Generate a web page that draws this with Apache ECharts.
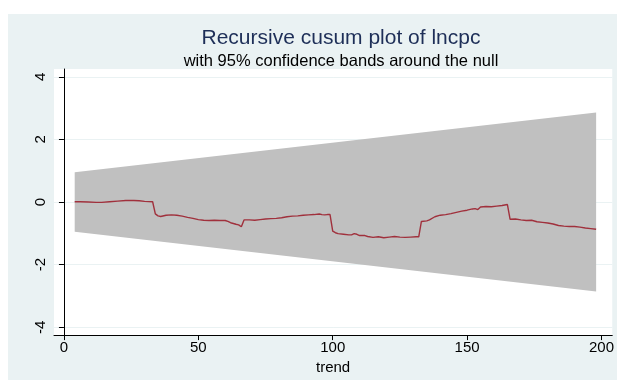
<!DOCTYPE html>
<html>
<head>
<meta charset="utf-8">
<script src="https://cdn.jsdelivr.net/npm/echarts@6/dist/echarts.min.js"></script>
<style>
  html, body { margin: 0; padding: 0; background: #ffffff; }
  #chart { width: 617px; height: 380px; }
</style>
</head>
<body>
<div id="chart"></div>
<script>
// recursive cusum values
var trendX = [4, 6, 9, 12, 14, 17, 20, 23, 26, 28, 30, 33, 34, 35, 36, 38, 40, 42, 44, 46,
    48, 50, 52, 54, 56, 58, 60, 61, 62, 64, 65, 66, 67, 69, 71, 73, 75, 77, 79, 81,
    83, 85, 87, 89, 91, 93, 95, 96, 97, 98, 99, 100, 101, 102, 104, 106, 107, 108, 109, 110,
    112, 113, 115, 117, 119, 121, 123, 125, 127, 129, 131, 132, 133, 135, 136, 138, 140, 142, 144, 146,
    148, 150, 152, 153, 154, 155, 157, 159, 161, 163, 165, 166, 168, 170, 172, 174, 176, 178, 180, 182,
    184, 186, 188, 190, 192, 194, 196, 198];
var cusumY = [0.01, 0.01, 0.0, -0.01, -0.01, 0.01, 0.03, 0.05, 0.05, 0.04, 0.02, 0.01, -0.38, -0.44, -0.46, -0.42, -0.41, -0.42, -0.45, -0.49,
    -0.52, -0.56, -0.58, -0.59, -0.58, -0.59, -0.59, -0.62, -0.66, -0.71, -0.73, -0.79, -0.57, -0.57, -0.58, -0.56, -0.54, -0.53, -0.52, -0.50,
    -0.47, -0.45, -0.44, -0.42, -0.41, -0.40, -0.38, -0.40, -0.41, -0.40, -0.40, -0.93, -0.98, -1.01, -1.03, -1.05, -1.05, -1.01, -1.03, -1.07,
    -1.07, -1.10, -1.13, -1.11, -1.14, -1.12, -1.10, -1.12, -1.13, -1.12, -1.11, -1.11, -0.62, -0.60, -0.57, -0.47, -0.42, -0.40, -0.37, -0.33,
    -0.29, -0.26, -0.22, -0.21, -0.24, -0.16, -0.14, -0.15, -0.13, -0.11, -0.08, -0.55, -0.54, -0.57, -0.59, -0.58, -0.63, -0.65, -0.67, -0.70,
    -0.75, -0.77, -0.78, -0.78, -0.80, -0.83, -0.85, -0.87];

// 95% confidence band (straight lines)
var bandX = [4, 198];
var bandUpper = [0.95, 2.86];
var bandLower = [-0.95, -2.86];

var xTicks = [0, 50, 100, 150, 200];
var yTicks = [-4, -2, 0, 2, 4];

var myChart = echarts.init(document.getElementById('chart'));

var cusumData = [], bandData = [];
for (var i = 0; i < trendX.length; i++) {
    cusumData.push([trendX[i], cusumY[i]]);
}
for (var j = 0; j < bandX.length; j++) {
    bandData.push([bandX[j], bandUpper[j], bandLower[j]]);
}

// band polygon: upper edge left to right, lower edge back
function renderBand(params, api) {
    if (params.dataIndex !== 0) return;
    var pts = [];
    for (var k = 0; k < bandX.length; k++) {
        pts.push(api.coord([bandX[k], bandUpper[k]]));
    }
    for (var m = bandX.length - 1; m >= 0; m--) {
        pts.push(api.coord([bandX[m], bandLower[m]]));
    }
    return {
        type: 'polygon',
        shape: { points: pts },
        style: { fill: '#C0C0C0' }
    };
}

var option = {
    backgroundColor: '#ffffff',
    animation: false,
    graphic: [{
        type: 'rect',
        z: -10,
        silent: true,
        shape: { x: 8, y: 14, width: 609, height: 366 },
        style: { fill: '#EAF2F3' }
    }],
    title: [{
        text: 'Recursive cusum plot of lncpc',
        left: 336,
        top: 23,
        textAlign: 'center',
        textStyle: { fontFamily: 'Liberation Sans', fontSize: 21, fontWeight: 'normal', color: '#1E2F58' }
    }, {
        text: 'with 95% confidence bands around the null',
        left: 336,
        top: 48,
        textAlign: 'center',
        textStyle: { fontFamily: 'Liberation Sans', fontSize: 16.5, fontWeight: 'normal', color: '#000000' }
    }],
    grid: {
        left: 54,
        right: 2,
        top: 69,
        bottom: 44,
        show: true,
        backgroundColor: '#ffffff',
        borderWidth: 0
    },
    xAxis: {
        type: 'value',
        min: -3.7,
        max: 204,
        name: 'trend',
        nameLocation: 'middle',
        nameGap: 24,
        nameTextStyle: { fontFamily: 'Liberation Sans', fontSize: 15, color: '#000000' },
        axisLine: { onZero: false, lineStyle: { color: '#000000', width: 1 } },
        axisTick: { show: true, length: 5, customValues: xTicks, lineStyle: { color: '#000000' } },
        axisLabel: { customValues: xTicks, margin: 5, fontFamily: 'Liberation Sans', fontSize: 15, color: '#000000' },
        splitLine: { show: false }
    },
    yAxis: {
        type: 'value',
        min: -4.25,
        max: 4.25,
        axisLine: { show: true, lineStyle: { color: '#000000', width: 1 } },
        axisTick: { show: true, length: 5, customValues: yTicks, lineStyle: { color: '#000000' } },
        axisLabel: { customValues: yTicks, rotate: 90, margin: 6, fontFamily: 'Liberation Sans', fontSize: 15, color: '#000000' },
        splitLine: { show: true, lineStyle: { color: '#EAF2F3', width: 1 } }
    },
    series: [{
        name: 'band',
        type: 'custom',
        silent: true,
        renderItem: renderBand,
        encode: { x: 0, y: [1, 2] },
        data: bandData,
        z: 1
    }, {
        name: 'cusum',
        type: 'line',
        symbol: 'none',
        data: cusumData,
        lineStyle: { color: '#A0303C', width: 1.4 },
        z: 3
    }]
};
myChart.setOption(option);
</script>
</body>
</html>
